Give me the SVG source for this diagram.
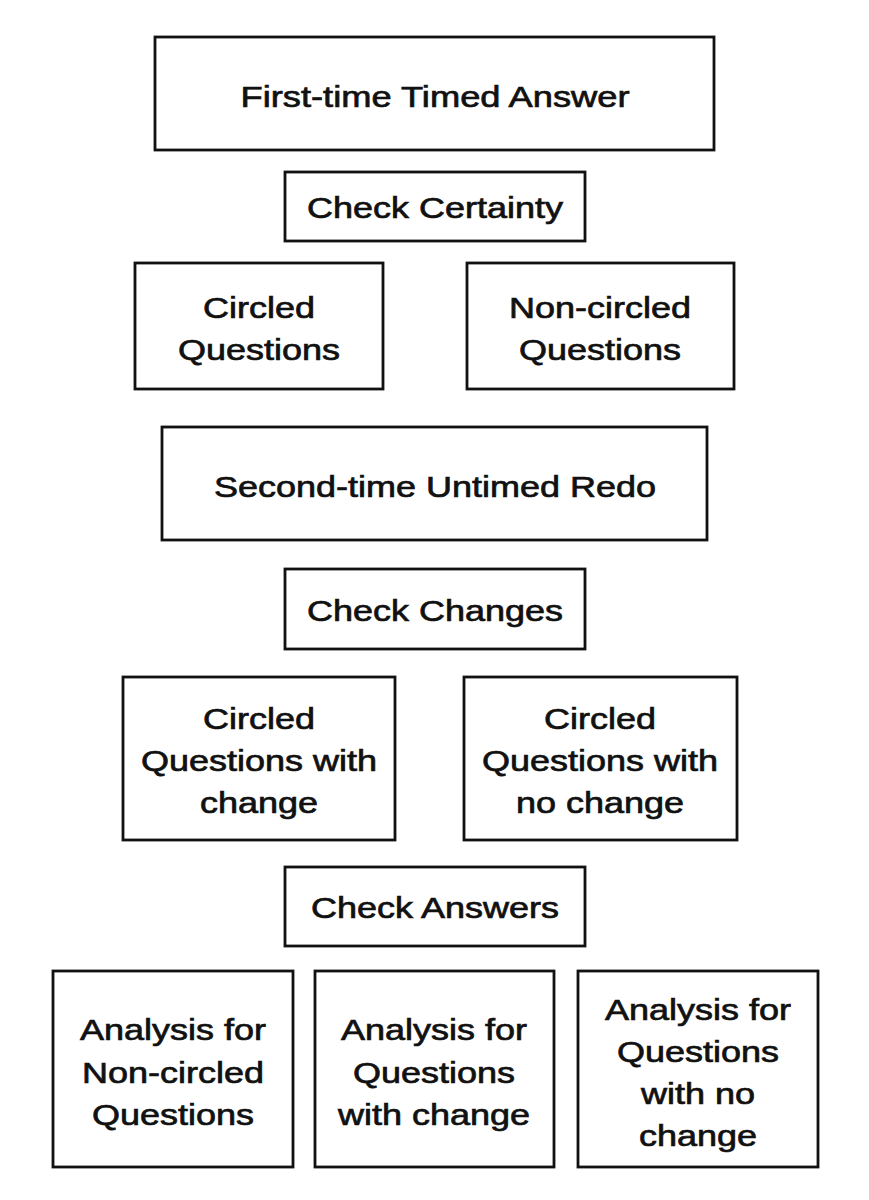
<svg xmlns="http://www.w3.org/2000/svg" width="869" height="1200" viewBox="0 0 869 1200">
  <style>
    .box { fill: #ffffff; stroke: #111111; stroke-width: 2.8; }
    .lbl { font-family: "Liberation Sans", Arial, Helvetica, sans-serif; font-size: 30px; fill: #111111; stroke: #111111; stroke-width: 0.7; text-anchor: middle; }
  </style>
  <rect x="0" y="0" width="869" height="1200" fill="#ffffff"/>
  <g id="connectors"></g>

  <g id="n-first-time">
    <rect class="box" x="155" y="37" width="559" height="113"/>
    <g transform="translate(435,0) scale(1.21,1)"><text class="lbl" x="0" y="107">First-time Timed Answer</text></g>
  </g>

  <g id="n-check-certainty">
    <rect class="box" x="285" y="172" width="300" height="69"/>
    <g transform="translate(435,0) scale(1.2,1)"><text class="lbl" x="0" y="218">Check Certainty</text></g>
  </g>

  <g id="n-circled">
    <rect class="box" x="135" y="263" width="248" height="126"/>
    <g transform="translate(259,0) scale(1.2,1)">
      <text class="lbl" x="0" y="318">Circled</text>
      <text class="lbl" x="0" y="360">Questions</text>
    </g>
  </g>

  <g id="n-non-circled">
    <rect class="box" x="467" y="263" width="267" height="126"/>
    <g transform="translate(600,0) scale(1.2,1)">
      <text class="lbl" x="0" y="318">Non-circled</text>
      <text class="lbl" x="0" y="360">Questions</text>
    </g>
  </g>

  <g id="n-second-time">
    <rect class="box" x="162" y="427" width="545" height="113"/>
    <g transform="translate(435,0) scale(1.2,1)"><text class="lbl" x="0" y="497">Second-time Untimed Redo</text></g>
  </g>

  <g id="n-check-changes">
    <rect class="box" x="285" y="569" width="300" height="80"/>
    <g transform="translate(435,0) scale(1.2,1)"><text class="lbl" x="0" y="621">Check Changes</text></g>
  </g>

  <g id="n-circled-change">
    <rect class="box" x="123" y="677" width="272" height="163"/>
    <g transform="translate(259,0) scale(1.2,1)">
      <text class="lbl" x="0" y="729">Circled</text>
      <text class="lbl" x="0" y="771">Questions with</text>
      <text class="lbl" x="0" y="813">change</text>
    </g>
  </g>

  <g id="n-circled-no-change">
    <rect class="box" x="464" y="677" width="273" height="163"/>
    <g transform="translate(600,0) scale(1.2,1)">
      <text class="lbl" x="0" y="729">Circled</text>
      <text class="lbl" x="0" y="771">Questions with</text>
      <text class="lbl" x="0" y="813">no change</text>
    </g>
  </g>

  <g id="n-check-answers">
    <rect class="box" x="285" y="867" width="300" height="79"/>
    <g transform="translate(435,0) scale(1.2,1)"><text class="lbl" x="0" y="918">Check Answers</text></g>
  </g>

  <g id="n-analysis-non-circled">
    <rect class="box" x="53" y="971" width="240" height="196"/>
    <g transform="translate(173,0) scale(1.2,1)">
      <text class="lbl" x="0" y="1040">Analysis for</text>
      <text class="lbl" x="0" y="1083">Non-circled</text>
      <text class="lbl" x="0" y="1125">Questions</text>
    </g>
  </g>

  <g id="n-analysis-change">
    <rect class="box" x="315" y="971" width="239" height="196"/>
    <g transform="translate(434,0) scale(1.2,1)">
      <text class="lbl" x="0" y="1040">Analysis for</text>
      <text class="lbl" x="0" y="1083">Questions</text>
      <text class="lbl" x="0" y="1125">with change</text>
    </g>
  </g>

  <g id="n-analysis-no-change">
    <rect class="box" x="578" y="971" width="240" height="196"/>
    <g transform="translate(698,0) scale(1.2,1)">
      <text class="lbl" x="0" y="1020">Analysis for</text>
      <text class="lbl" x="0" y="1062">Questions</text>
      <text class="lbl" x="0" y="1104">with no</text>
      <text class="lbl" x="0" y="1146">change</text>
    </g>
  </g>
</svg>
